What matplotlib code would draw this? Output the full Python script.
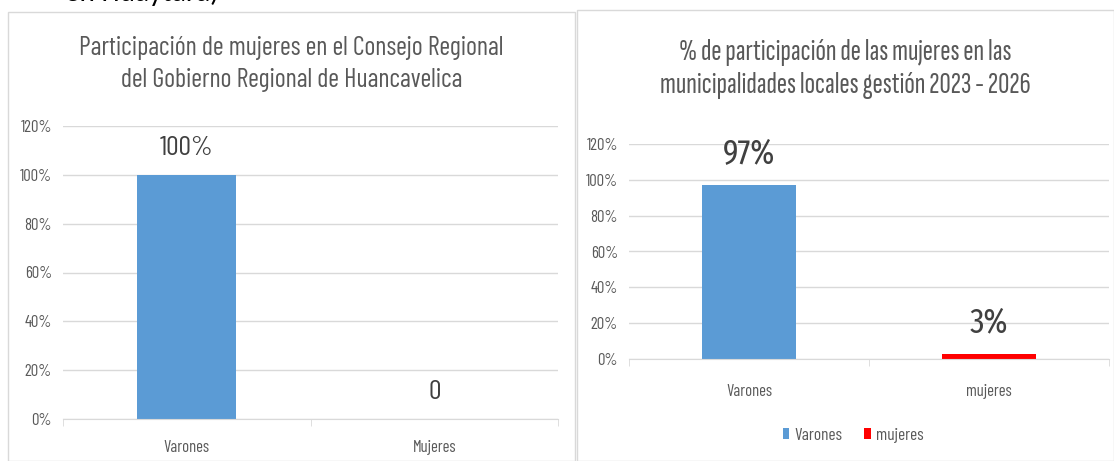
import matplotlib.pyplot as plt
from matplotlib.patches import Rectangle
from matplotlib.ticker import PercentFormatter

# datos
cat_left = ['Varones', 'Mujeres']
val_left = [1.00, 0.0]
lab_left = ['100%', '0']
title_left = 'Participación de mujeres en el Consejo Regional\ndel Gobierno Regional de Huancavelica'

cat_right = ['Varones', 'mujeres']
val_right = [0.97, 0.03]
lab_right = ['97%', '3%']
title_right = '% de participación de las mujeres en las\nmunicipalidades locales gestión 2023 - 2026'

yticks = [0, 0.2, 0.4, 0.6, 0.8, 1.0, 1.2]

plt.rcParams['font.family'] = ['Barlow Condensed', 'DejaVu Sans']
narrow = ['Fira Sans Extra Condensed', 'Barlow Condensed', 'DejaVu Sans']
xnarrow = ['Sofia Sans Extra Condensed', 'Fira Sans Extra Condensed', 'DejaVu Sans']
gray = '#595959'
W, H = 1114, 461
fig = plt.figure(figsize=(W / 100, H / 100), dpi=100)
renderer = fig.canvas.get_renderer()

def fx(px):
    return px / W

def fy(py):
    return 1 - py / H

def fit(t, width_px):
    # ajusta el tamaño de letra al ancho medido en la referencia
    w = t.get_window_extent(renderer).width
    t.set_fontsize(t.get_fontsize() * width_px / w)

# marcos de las dos figuras
fig.patches.append(Rectangle((fx(8), 0), fx(575 - 8), fy(12), transform=fig.transFigure,
                             fill=False, edgecolor='#d9d9d9', lw=1))
fig.patches.append(Rectangle((fx(577), 0), fx(W - 577), fy(10), transform=fig.transFigure,
                             fill=False, edgecolor='#d9d9d9', lw=1))

# texto cortado arriba
fig.text(fx(65), fy(-7), 'en Huaytara)', fontsize=21, color='black', va='center', ha='left',
         family=['Carlito', 'DejaVu Sans'])

def style(ax, cats, pad):
    ax.set_ylim(0, 1.2)
    ax.set_yticks(yticks)
    ax.yaxis.set_major_formatter(PercentFormatter(1.0, decimals=0))
    ax.set_xlim(-0.5, len(cats) - 0.5)
    ax.set_xticks(range(len(cats)))
    ax.set_xticklabels(cats)
    ax.set_xticks([-0.5, 0.5, 1.5], minor=True)
    ax.tick_params(axis='x', which='major', length=0, pad=pad, labelsize=12, labelcolor=gray)
    ax.tick_params(axis='x', which='minor', length=5, color='#d9d9d9', direction='out')
    ax.tick_params(axis='y', length=0, labelsize=12, labelcolor=gray, pad=8)
    ax.grid(axis='y', color='#d9d9d9', lw=1)
    ax.set_axisbelow(True)
    for s in ['top', 'right', 'left']:
        ax.spines[s].set_visible(False)
    ax.spines['bottom'].set_color('#d9d9d9')

# grafico izquierdo
ax1 = fig.add_axes([fx(63), fy(419), fx(558 - 63), (419 - 126) / H])
ax1.bar(range(len(cat_left)), val_left, width=0.4, color='#5b9bd5')
style(ax1, cat_left, 15)
for i, (v, t) in enumerate(zip(val_left, lab_left)):
    ax1.text(i, v + 0.06, t, ha='center', va='bottom', fontsize=20, color='#404040')
tl = fig.text(fx(291.5), fy(64), title_left, ha='center', va='center', fontsize=18,
              color=gray, linespacing=1.45)
fit(tl, 425)

# grafico derecho
ax2 = fig.add_axes([fx(629), fy(359), fx(1109 - 629), (359 - 144) / H])
b = ax2.bar(range(len(cat_right)), val_right, width=0.39, color=['#5b9bd5', '#ff0000'])
style(ax2, cat_right, 18)
for i, (v, t) in enumerate(zip(val_right, lab_right)):
    ax2.text(i, v + 0.08, t, ha='center', va='bottom', fontsize=25, color='#404040',
             family=narrow)
tr = fig.text(fx(845), fy(69), title_right, ha='center', va='center', fontsize=20,
              color=gray, linespacing=1.3, family=xnarrow)
fit(tr, 370)
fig.legend(b, ['Varones', 'mujeres'], loc='center', bbox_to_anchor=(fx(853), fy(435)),
           ncol=2, frameon=False, fontsize=12.5, labelcolor=gray, handlelength=0.35,
           handleheight=0.6, handletextpad=0.3, columnspacing=1.3)

fig.savefig('out.png', dpi=100)
